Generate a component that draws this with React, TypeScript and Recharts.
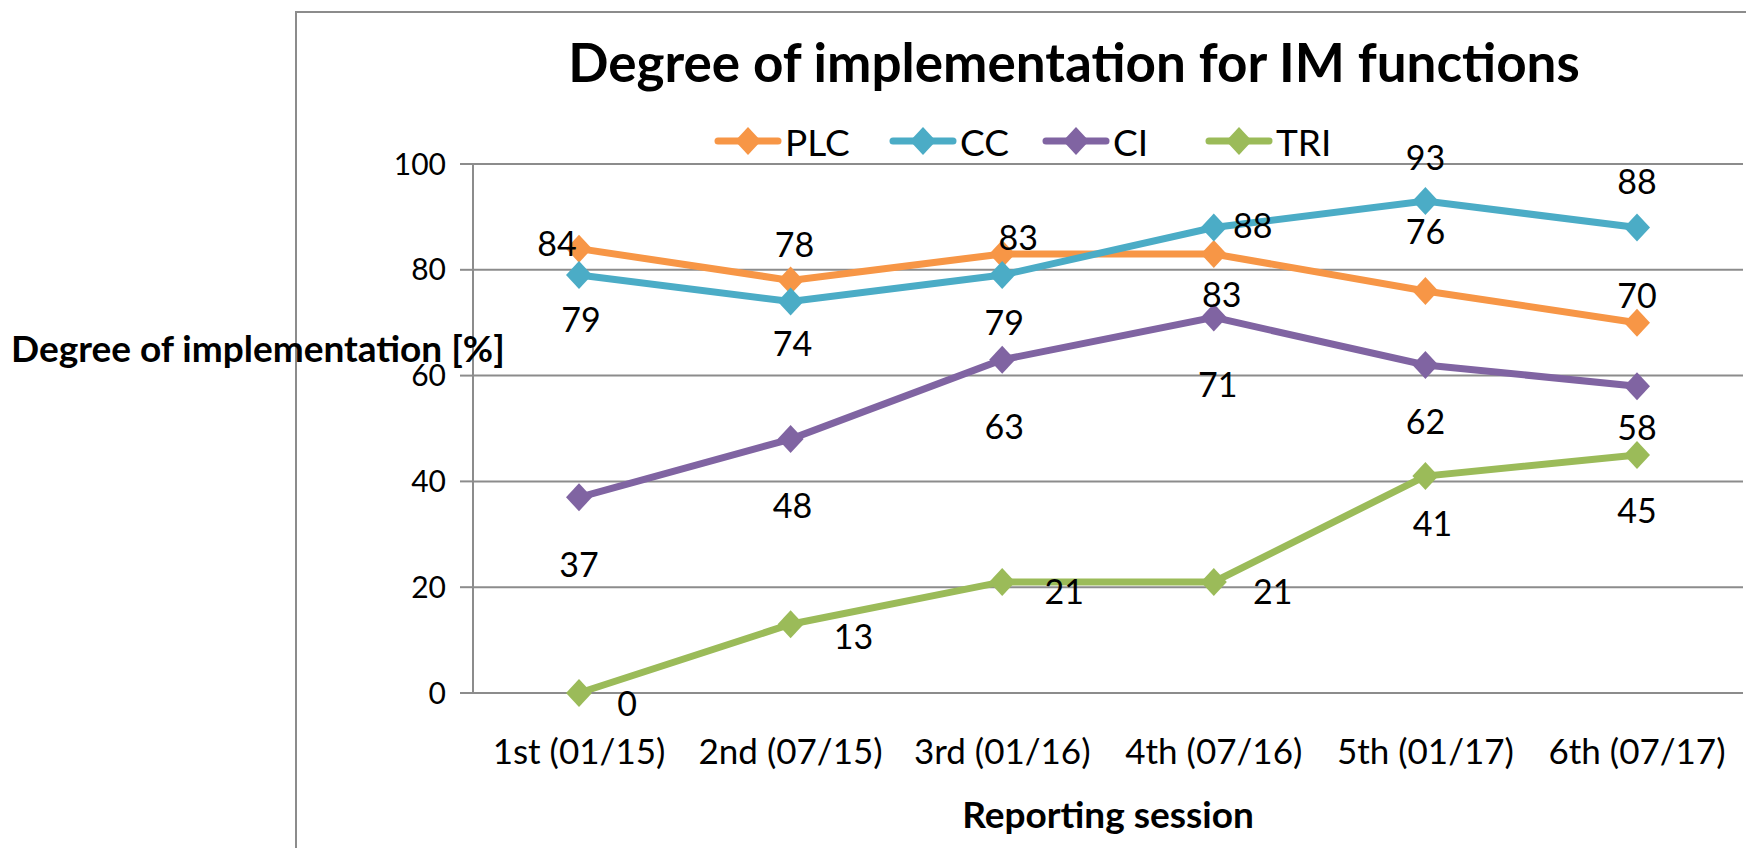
import React from 'react'
import { LineChart, Line, XAxis, YAxis, CartesianGrid } from 'recharts'

const sessions = ['1st (01/15)', '2nd (07/15)', '3rd (01/16)', '4th (07/16)', '5th (01/17)', '6th (07/17)']
const plc = [84, 78, 83, 83, 76, 70]
const cc = [79, 74, 79, 88, 93, 88]
const ci = [37, 48, 63, 71, 62, 58]
const tri = [0, 13, 21, 21, 41, 45]
const yTicks = [0, 20, 40, 60, 80, 100]

// where each data label sits relative to its point (hand placed, like the source)
const plcLabelPos = [[-22, -6], [4, -37], [16, -17], [8, 40], [0, -60], [0, -28]]
const ccLabelPos = [[2, 43], [2, 41], [2, 46], [39, -3], [0, -45], [0, -47]]
const ciLabelPos = [[0, 66], [2, 65], [2, 66], [4, 66], [0, 55], [0, 40]]
const triLabelPos = [[48, 9], [63, 11], [62, 9], [59, 9], [7, 46], [0, 55]]

const data = sessions.map((s, i) => ({ session: s, PLC: plc[i], CC: cc[i], CI: ci[i], TRI: tri[i] }))

const FONT = 'Lato, "Open Sans", sans-serif'
const GRID = '#8c8c8c'

const series = [
  { key: 'PLC', color: '#F79646', pos: plcLabelPos, legendX: 714 },
  { key: 'CC', color: '#4BACC6', pos: ccLabelPos, legendX: 889 },
  { key: 'CI', color: '#8064A2', pos: ciLabelPos, legendX: 1042 },
  { key: 'TRI', color: '#9BBB59', pos: triLabelPos, legendX: 1205 },
]

const Diamond = (color: string) => (props: any) => {
  const { cx, cy, index } = props
  if (cx == null || cy == null) return <g key={index} />
  const r = 14
  return (
    <polygon
      key={index}
      points={`${cx},${cy - r} ${cx + r - 1},${cy} ${cx},${cy + r} ${cx - r + 1},${cy}`}
      fill={color}
    />
  )
}

const makeLabel = (pos: number[][]) => (props: any) => {
  const { x, y, value, index } = props
  const [dx, dy] = pos[index] || [0, -30]
  return (
    <text
      key={index}
      x={x + dx}
      y={y + dy}
      textAnchor="middle"
      dominantBaseline="central"
      fontSize={34}
      fontFamily={FONT}
      fill="#000"
    >
      {value}
    </text>
  )
}

function LegendRow() {
  return (
    <>
      {series.map(s => (
        <div key={s.key} style={{ position: 'absolute', left: s.legendX, top: 118, height: 46, display: 'flex', alignItems: 'center', fontFamily: FONT, fontSize: 37 }}>
          <svg width={68} height={32}>
            <line x1={4} y1={16} x2={64} y2={16} stroke={s.color} strokeWidth={7} strokeLinecap="round" />
            <polygon points="34,2 47,16 34,30 21,16" fill={s.color} />
          </svg>
          <span style={{ marginLeft: 3 }}>{s.key}</span>
        </div>
      ))}
    </>
  )
}

export default function App() {
  return (
    <div style={{ position: 'absolute', left: 0, top: 0, width: 1746, height: 848, background: '#fff', overflow: 'hidden' }}>
      <div style={{ position: 'absolute', left: 295, top: 11, width: 1500, height: 900, borderLeft: `2px solid ${GRID}`, borderTop: `2px solid ${GRID}` }} />
      <div style={{ position: 'absolute', left: 0, width: 2148, top: 30, textAlign: 'center', fontFamily: FONT, fontWeight: 700, fontSize: 53 }}>
        Degree of implementation for IM functions
      </div>
      <LegendRow />
      <div style={{ position: 'absolute', left: 0, top: 0 }}>
        <LineChart width={1746} height={848} data={data} margin={{ top: 164, right: 3, left: 0, bottom: 0 }}>
          <CartesianGrid horizontal vertical={false} stroke={GRID} strokeWidth={2} />
          <XAxis
            dataKey="session"
            height={155}
            padding={{ left: 106, right: 106 }}
            axisLine={{ stroke: GRID, strokeWidth: 2 }}
            tickLine={false}
            tickMargin={40}
            tick={{ fontSize: 35, fontFamily: FONT, fill: '#000' }}
            interval={0}
            label={{
              content: () => (
                <text x={1108} y={813} textAnchor="middle" dominantBaseline="central" fontSize={37} fontWeight={700} fontFamily={FONT} fill="#000">
                  Reporting session
                </text>
              ),
            }}
          />
          <YAxis
            width={473}
            domain={[0, 100]}
            ticks={yTicks}
            axisLine={{ stroke: GRID, strokeWidth: 2 }}
            tickLine={{ stroke: GRID, strokeWidth: 2 }}
            tickSize={13}
            tickMargin={14}
            tick={{ fontSize: 30, fontFamily: FONT, fill: '#000' }}
            label={{
              content: () => (
                <text x={11} y={347} textAnchor="start" dominantBaseline="central" fontSize={37} fontWeight={700} fontFamily={FONT} fill="#000">
                  Degree of implementation [%]
                </text>
              ),
            }}
          />
          {series.map(s => (
            <Line
              key={s.key}
              dataKey={s.key}
              stroke={s.color}
              strokeWidth={7}
              dot={Diamond(s.color)}
              activeDot={false}
              label={makeLabel(s.pos)}
              isAnimationActive={false}
            />
          ))}
        </LineChart>
      </div>
    </div>
  )
}
